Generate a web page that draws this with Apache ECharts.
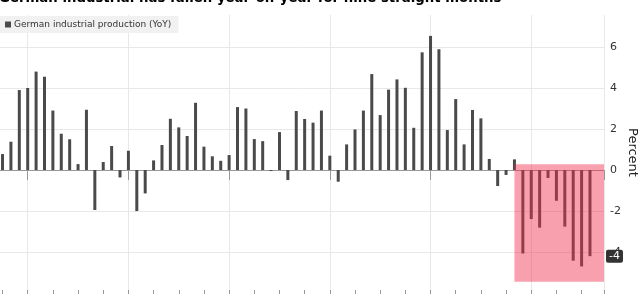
<!DOCTYPE html>
<html>
<head>
<meta charset="utf-8">
<script src="https://cdn.jsdelivr.net/npm/echarts@6/dist/echarts.min.js"></script>
<style>
html,body{margin:0;padding:0;background:#fff;}
#chart{width:640px;height:300px;}
</style>
</head>
<body>
<div id="chart"></div>
<script>
// Monthly YoY change, Oct 2013 .. Aug 2019 (percent)
var startMonthIndex = 9; // months since Jan 2013 (Oct 2013)
var months = [];
(function(){ for (var i = 0; i < 71; i++) { var m = startMonthIndex + i; months.push((2013 + Math.floor(m/12)) + '-' + ('0' + (m%12+1)).slice(-2)); } })();
var values = [
  0.78, 1.38, 3.9, 4.0, 4.8, 4.55, 2.9, 1.77, 1.5, 0.29, 2.94, -1.95,
  0.39, 1.17, -0.36, 0.94, -2.0, -1.14, 0.47, 1.22, 2.5, 2.08, 1.66, 3.28,
  1.14, 0.67, 0.45, 0.73, 3.07, 3.0, 1.51, 1.41, -0.05, 1.85, -0.49, 2.88,
  2.49, 2.31, 2.9, 0.7, -0.57, 1.25, 1.98, 2.9, 4.68, 2.68, 3.92, 4.42,
  4.01, 2.06, 5.74, 6.54, 5.89, 1.95, 3.46, 1.25, 2.93, 2.52, 0.54, -0.78,
  -0.24, 0.52, -4.07, -2.39, -2.81, -0.39, -1.5, -2.76, -4.42, -4.7, -4.2
];
var seriesName = 'German industrial production (YoY)';
var titleText = 'German industrial has fallen year-on-year for nine straight months';
var highlightStart = 61;      // index of first month in the shaded box
var highlightTop = 0.28;
var highlightBottom = -5.45;
var xMax = 80.67;

var chart = echarts.init(document.getElementById('chart'), null, {renderer: 'canvas'});
var pts = values.map(function(v, i){ return [startMonthIndex + i, v]; });
var lastVal = values[values.length - 1];

var option = {
  animation: false,
  title: {
    text: titleText, left: -1, top: -8, padding: 0,
    textStyle: {fontFamily: 'DejaVu Sans', fontWeight: 'bold', fontSize: 13.3, color: '#000'}
  },
  legend: {
    data: [seriesName], left: 0, top: 16, padding: [4, 7, 4, 5],
    backgroundColor: '#f1f1f1', icon: 'rect', itemWidth: 6, itemHeight: 6, itemGap: 3,
    textStyle: {fontFamily: 'DejaVu Sans', fontSize: 9, color: '#333', padding: [0,0,0,-2]}
  },
  grid: {left: -73, right: 36, top: 15, bottom: 10, containLabel: false, outerBoundsMode: 'none'},
  xAxis: [{
    type: 'value', min: 0, max: xMax, interval: 12,
    axisLine: {show: true, lineStyle: {color: '#999', width: 1}},
    axisTick: {show: true, length: 10, lineStyle: {color: '#999'}},
    axisLabel: {show: false},
    splitLine: {show: true, lineStyle: {color: '#e8e8e8', width: 1}}
  }, {
    type: 'value', min: 0, max: xMax, interval: 3, position: 'bottom',
    axisLine: {show: false},
    axisTick: {show: true, length: 4, lineStyle: {color: '#999'}},
    axisLabel: {show: false},
    splitLine: {show: false}
  }],
  yAxis: {
    type: 'value', position: 'right', min: -5.85, max: 7.56, splitNumber: 7,
    name: 'Percent', nameLocation: 'middle', nameRotate: -90, nameGap: 22, nameMoveOverlap: false,
    nameTextStyle: {fontFamily: 'DejaVu Sans', fontSize: 13, color: '#222'},
    axisLine: {show: true, lineStyle: {color: '#999'}},
    axisTick: {show: true, length: 4, lineStyle: {color: '#888'}},
    minorTick: {show: true, splitNumber: 2, length: 3, lineStyle: {color: '#aaa'}},
    axisLabel: {fontFamily: 'DejaVu Sans', fontSize: 11, color: '#333', margin: 6, showMinLabel: false, showMaxLabel: false},
    splitLine: {show: true, showMinLine: false, showMaxLine: false, lineStyle: {color: '#e8e8e8', width: 1}}
  },
  series: [{
    name: seriesName, type: 'bar', data: pts, barWidth: 3, z: 2,
    itemStyle: {color: '#4a4a4a'},
    markLine: {
      silent: true, symbol: ['none', 'none'], z: 20,
      lineStyle: {color: 'transparent', width: 0},
      data: [{yAxis: lastVal}],
      label: {
        show: true, position: 'end', distance: 2,
        formatter: function(p){ return String(Math.round(p.value)); },
        backgroundColor: '#333', color: '#fff', fontFamily: 'DejaVu Sans', fontSize: 11,
        padding: [1, 3, 1, 3], borderRadius: 2
      }
    }
  }, {
    name: 'highlight', type: 'custom', z: 10, silent: true,
    data: [[startMonthIndex + highlightStart, highlightTop, xMax, highlightBottom]],
    renderItem: function(params, api){
      var p1 = api.coord([api.value(0), api.value(1)]);
      var p2 = api.coord([api.value(2), api.value(3)]);
      return {
        type: 'rect',
        shape: {x: p1[0], y: p1[1], width: p2[0] - p1[0], height: p2[1] - p1[1]},
        style: {fill: 'rgba(240, 45, 75, 0.45)'}
      };
    }
  }]
};
chart.setOption(option);
</script>
</body>
</html>
